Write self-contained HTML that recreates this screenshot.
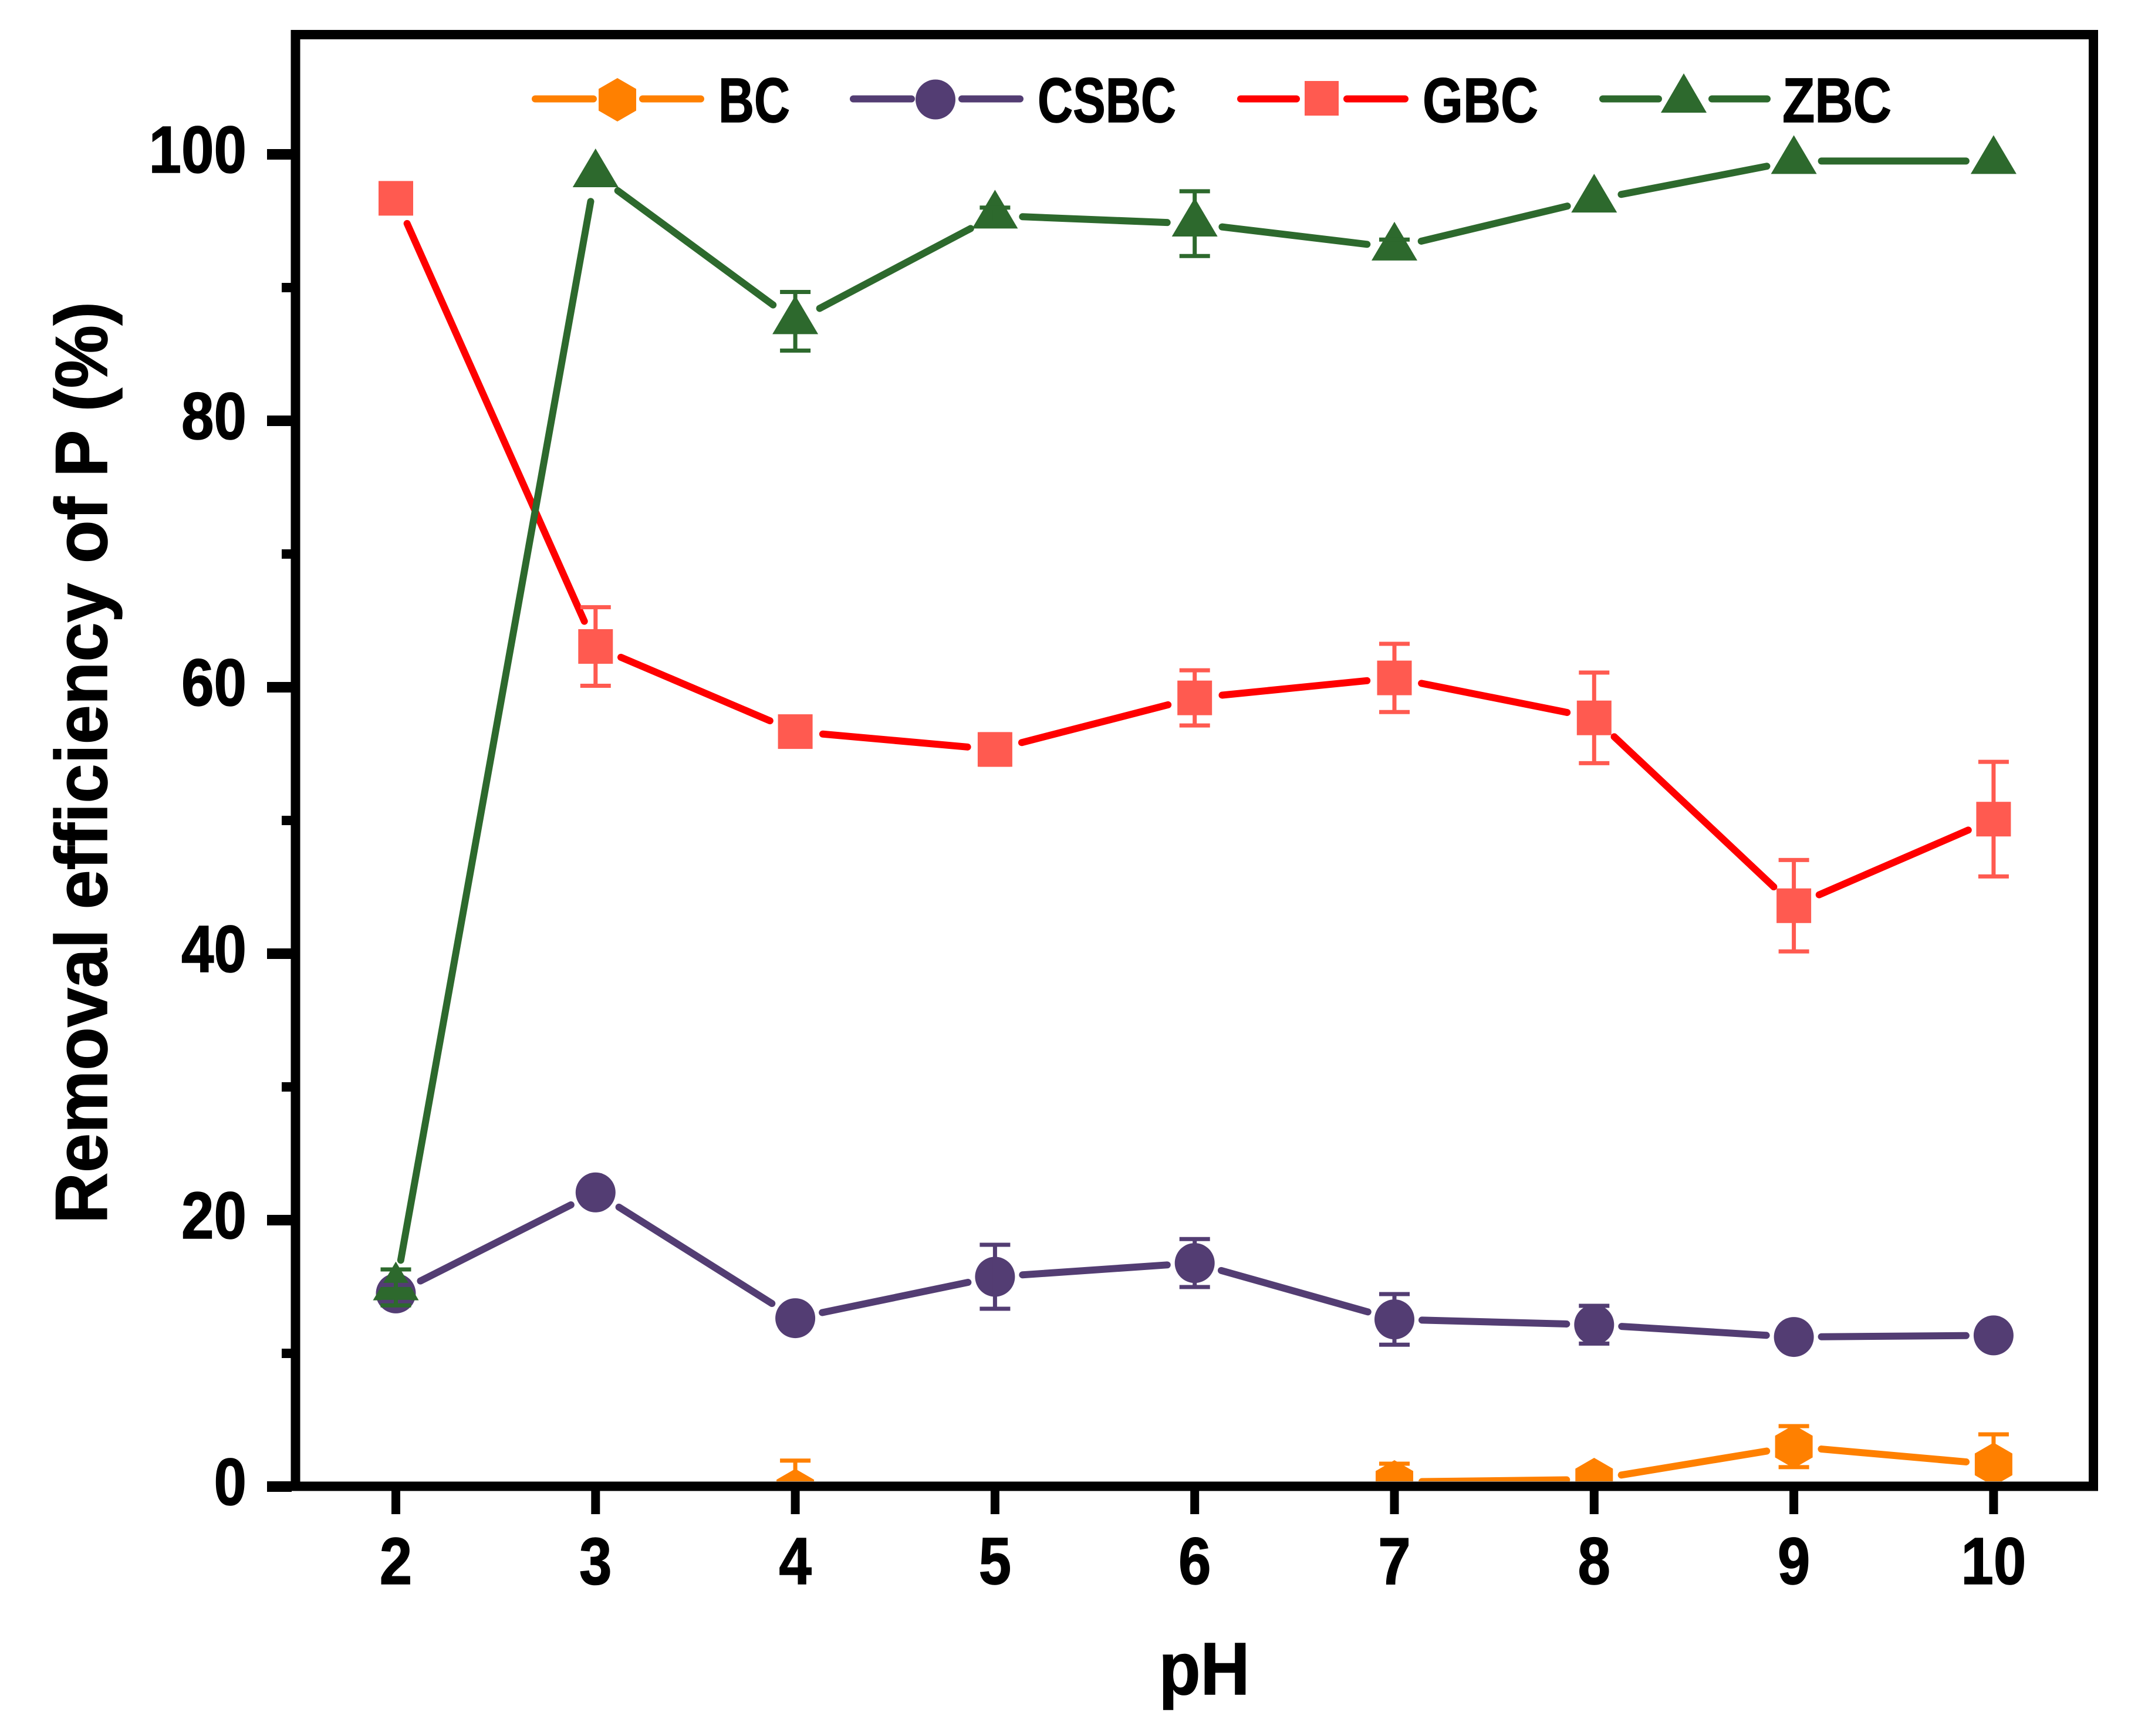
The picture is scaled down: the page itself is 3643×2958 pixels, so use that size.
<!DOCTYPE html>
<html lang="en">
<head>
<meta charset="utf-8">
<title>Removal efficiency of P vs pH</title>
<style>
  html, body { margin: 0; padding: 0; background: #fff; }
  svg { display: block; }
  text { font-family: "Liberation Sans", sans-serif; font-weight: 700; fill: #000; stroke: #000; stroke-width: 1.5px; }
</style>
</head>
<body>
<svg id="chart" xmlns="http://www.w3.org/2000/svg" width="3643" height="2958" viewBox="0 0 3643 2958">
  <rect x="0" y="0" width="3643" height="2958" fill="#ffffff"/>
  <defs>
    <clipPath id="plot-clip"><rect x="0" y="0" width="3643" height="2524"/></clipPath>
  </defs>
  <g id="series-layer" clip-path="url(#plot-clip)"></g>
  <g id="axis-layer">
    <rect x="503.5" y="59" width="3063.5" height="2473.5" fill="none" stroke="#000" stroke-width="16"/>
  </g>
  <g>
    <g>
      <line x1="912" y1="168.5" x2="1011" y2="168.5" stroke="#FF8000" stroke-width="12" stroke-linecap="round"/>
      <line x1="1095" y1="168.5" x2="1194" y2="168.5" stroke="#FF8000" stroke-width="12" stroke-linecap="round"/>
      <polygon points="1052,133 1084,151.5 1084,188.5 1052,207 1020,188.5 1020,151.5" fill="#FF8000"/>
      <text x="1224" y="208" font-size="108" textLength="122" lengthAdjust="spacingAndGlyphs">BC</text>
    </g>
    <g>
      <line x1="1454" y1="168.5" x2="1553" y2="168.5" stroke="#533D73" stroke-width="12" stroke-linecap="round"/>
      <line x1="1639" y1="168.5" x2="1738" y2="168.5" stroke="#533D73" stroke-width="12" stroke-linecap="round"/>
      <circle cx="1594" cy="169.5" r="34" fill="#533D73"/>
      <text x="1768" y="208" font-size="108" textLength="236" lengthAdjust="spacingAndGlyphs">CSBC</text>
    </g>
    <g>
      <line x1="2114" y1="168.5" x2="2209" y2="168.5" stroke="#FF0000" stroke-width="12" stroke-linecap="round"/>
      <line x1="2295" y1="168.5" x2="2394" y2="168.5" stroke="#FF0000" stroke-width="12" stroke-linecap="round"/>
      <rect x="2223" y="138" width="58" height="59" fill="#FF5A50"/>
      <text x="2424" y="208" font-size="108" textLength="197" lengthAdjust="spacingAndGlyphs">GBC</text>
    </g>
    <g>
      <line x1="2731" y1="168.5" x2="2826" y2="168.5" stroke="#2D692D" stroke-width="12" stroke-linecap="round"/>
      <line x1="2917" y1="168.5" x2="3011" y2="168.5" stroke="#2D692D" stroke-width="12" stroke-linecap="round"/>
      <polygon points="2869,125 2908,192 2830,192" fill="#2D692D"/>
      <text x="3037" y="208" font-size="108" textLength="186" lengthAdjust="spacingAndGlyphs">ZBC</text>
    </g>
  </g>
  <text x="2052" y="2887" font-size="126" text-anchor="middle" textLength="155" lengthAdjust="spacingAndGlyphs">pH</text>
  <text transform="translate(182 2085) rotate(-90)" x="0" y="0" font-size="125" textLength="1571" lengthAdjust="spacingAndGlyphs">Removal efficiency of P (%)</text>
</svg>
<script>
// ---- chart data ----
const phCategories = [2, 3, 4, 5, 6, 7, 8, 9, 10];
const xTickLabels = ['2', '3', '4', '5', '6', '7', '8', '9', '10'];
const yMajorTicks = [0, 20, 40, 60, 80, 100];
const yMinorTicks = [10, 30, 50, 70, 90];
const yTickLabels = ['0', '20', '40', '60', '80', '100'];

const bcValues   = [null, null, -0.3, null, null, 0.35, 0.53, 3.0, 1.67];
const bcErrors   = [null, null, 2.25, null, null, 1.37, 0, 1.54, 2.25];
const csbcValues = [14.5, 22.08, 12.64, 15.75, 16.78, 12.55, 12.15, 11.23, 11.35];
const csbcErrors = [0.64, 0, 0, 2.4, 1.8, 1.9, 1.42, 0, 0];
const gbcValues  = [96.7, 63.06, 56.67, 55.33, 59.2, 60.7, 57.7, 43.6, 50.1];
const gbcErrors  = [0, 2.95, 1.0, 1.15, 2.07, 2.56, 3.4, 3.43, 4.3];
const zbcValues  = [14.95, 98.5, 87.47, 95.4, 94.8, 93.0, 96.6, 99.5, 99.5];
const zbcErrors  = [1.35, 0, 2.2, 0.6, 2.43, 0.6, 0, 0, 0];

// ---- axis functions ----
function xPos(ph) { return 674.5 + (ph - 2) * 340.3; }
function yPos(v) { return 2533 - v * 22.7; }

const SVG_NS = 'http://www.w3.org/2000/svg';
const seriesLayer = document.getElementById('series-layer');
const axisLayer = document.getElementById('axis-layer');

function make(tag, attrs, parent) {
  const node = document.createElementNS(SVG_NS, tag);
  for (const k in attrs) node.setAttribute(k, attrs[k]);
  parent.appendChild(node);
  return node;
}

const seriesList = [
  { key: 'bc',   values: bcValues,   errors: bcErrors,   line: '#FF8000', fill: '#FF8000', shape: 'hexagon' },
  { key: 'csbc', values: csbcValues, errors: csbcErrors, line: '#533D73', fill: '#533D73', shape: 'circle' },
  { key: 'gbc',  values: gbcValues,  errors: gbcErrors,  line: '#FF0000', fill: '#FF5A50', shape: 'square' },
  { key: 'zbc',  values: zbcValues,  errors: zbcErrors,  line: '#2D692D', fill: '#2D692D', shape: 'triangle' }
];

const markerGap = 47;

// connecting line segments (with a gap around each marker)
seriesList.forEach(function (s) {
  for (let i = 0; i < s.values.length - 1; i++) {
    if (s.values[i] === null || s.values[i + 1] === null) continue;
    const x1 = xPos(phCategories[i]), y1 = yPos(s.values[i]);
    const x2 = xPos(phCategories[i + 1]), y2 = yPos(s.values[i + 1]);
    const len = Math.hypot(x2 - x1, y2 - y1);
    if (len <= markerGap * 2) continue;
    const ux = (x2 - x1) / len, uy = (y2 - y1) / len;
    const el = make('line', {
      x1: x1 + ux * markerGap, y1: y1 + uy * markerGap,
      x2: x2 - ux * markerGap, y2: y2 - uy * markerGap,
      stroke: s.line, 'stroke-width': 12, 'stroke-linecap': 'round'
    }, seriesLayer);
    
    
  }
});

// markers
seriesList.forEach(function (s) {
  s.values.forEach(function (v, i) {
    if (v === null) return;
    const x = xPos(phCategories[i]), y = yPos(v);
    let el;
    if (s.shape === 'circle') {
      el = make('circle', { cx: x, cy: y, r: 34, fill: s.fill }, seriesLayer);
    } else if (s.shape === 'square') {
      el = make('rect', { x: x - 29.5, y: y - 29.5, width: 59, height: 59, fill: s.fill }, seriesLayer);
    } else if (s.shape === 'triangle') {
      el = make('polygon', { points: [x, y - 44, x + 39, y + 22, x - 39, y + 22].join(' '), fill: s.fill }, seriesLayer);
    } else {
      el = make('polygon', {
        points: [x, y - 37, x + 32, y - 18.5, x + 32, y + 18.5, x, y + 37, x - 32, y + 18.5, x - 32, y - 18.5].join(' '),
        fill: s.fill
      }, seriesLayer);
    }
    
    
  });
});

// error bars
seriesList.forEach(function (s) {
  s.values.forEach(function (v, i) {
    const e = s.errors[i];
    if (v === null || !e) return;
    const x = xPos(phCategories[i]);
    const yTop = yPos(v + e), yBottom = yPos(v - e);
    const bar = make('g', { stroke: s.fill, fill: 'none' }, seriesLayer);
    
    
    make('line', { x1: x, y1: yTop, x2: x, y2: yBottom, 'stroke-width': 7 }, bar);
    make('line', { x1: x - 26, y1: yTop, x2: x + 26, y2: yTop, 'stroke-width': 7 }, bar);
    make('line', { x1: x - 26, y1: yBottom, x2: x + 26, y2: yBottom, 'stroke-width': 7 }, bar);
  });
});

// y axis ticks
yMajorTicks.forEach(function (v, i) {
  const tick = make('rect', { x: 455, y: yPos(v) - 9, width: 42, height: 18, fill: '#000' }, axisLayer);
  
  
  const label = yTickLabels[i];
  const txt = make('text', {
    x: 420, y: yPos(v) + 31, 'font-size': 113, 'text-anchor': 'end',
    textLength: label.length * 55.5, lengthAdjust: 'spacingAndGlyphs'
  }, axisLayer);
  txt.textContent = label;
  
  
});
yMinorTicks.forEach(function (v) {
  const tick = make('rect', { x: 480, y: yPos(v) - 8, width: 17, height: 16, fill: '#000' }, axisLayer);
  
  
});

// x axis ticks
phCategories.forEach(function (ph, i) {
  const tick = make('rect', { x: xPos(ph) - 7.5, y: 2538, width: 15, height: 42, fill: '#000' }, axisLayer);
  
  
  const label = xTickLabels[i];
  const txt = make('text', {
    x: xPos(ph), y: 2699, 'font-size': 113, 'text-anchor': 'middle',
    textLength: label.length * 55.5, lengthAdjust: 'spacingAndGlyphs'
  }, axisLayer);
  txt.textContent = label;
  
  
});
</script>
</body>
</html>
